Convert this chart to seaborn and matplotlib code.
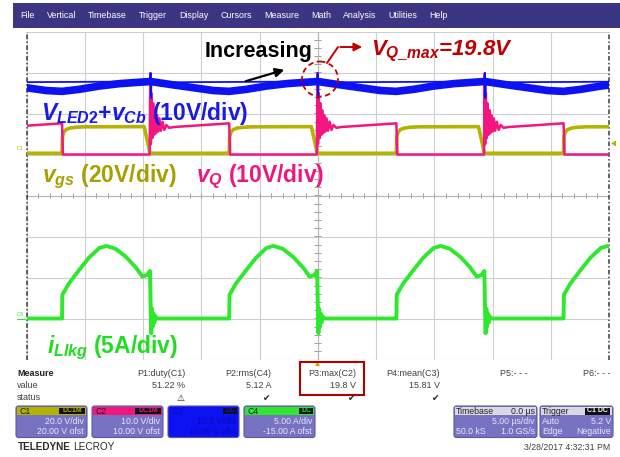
import numpy as np
import pandas as pd
import matplotlib
matplotlib.use("Agg")
import matplotlib.pyplot as plt
import seaborn as sns
from matplotlib.patches import Rectangle, FancyBboxPatch, Ellipse, Polygon

W, H = 620, 457

# ---------------- scope settings ----------------
time_div = 5.0                      # us / div
x_divs, y_divs = 10, 8
scale = {"C1": 20.0, "C2": 10.0, "C3": 10.0, "C4": 5.0}      # units / div
offset = {"C1": 20.0, "C2": 10.0, "C3": 10.0, "C4": -15.0}   # units

# C1 rising edges = start of each switching cycle (us)
cycle_starts = [-36.3, -21.95, -7.6, 6.75, 21.1]

# ---------------- one switching cycle, time from the C1 rising edge (us) ----------------
vgs_t = [0.0, 0.04, 0.15, 0.35, 0.7, 1.2, 2.0, 7.05, 7.35, 7.55, 14.34]
vgs_v = [0.6, 8.6, 10.9, 12.2, 12.9, 13.3, 13.5, 13.6, 6.0, 0.6, 0.6]

vq_t = [0.0, 0.08, 7.52, 7.58, 7.62, 7.68, 7.75, 7.82, 7.9, 7.98, 8.06, 8.15,
        8.25, 8.36, 8.48, 8.62, 8.78, 8.95, 9.2, 9.6, 14.34]
vq_v = [7.6, 0.0, 0.0, 19.8, 2.5, 15.0, 4.0, 12.5, 4.8, 10.8, 5.2, 9.6,
        5.6, 8.8, 5.8, 8.0, 6.0, 7.2, 6.5, 6.7, 7.6]

vled_t = [0.0, 1.5, 3.2, 5.0, 6.5, 7.6, 9.5, 11.5, 13.0, 14.34]
vled_v = [15.4, 15.9, 16.7, 17.3, 17.6, 17.8, 17.0, 16.2, 15.6, 15.4]
# switching spike riding on V_LED2 + v_Cb
vled_spike_t = [7.56, 7.6, 7.64, 7.68, 7.74]
vled_spike_v = [17.8, 19.9, 13.8, 18.4, 17.6]

ilk_t = [0.0, 0.03, 0.6, 1.46, 2.3, 3.2, 3.8, 4.6, 5.5, 6.35, 6.9, 7.3, 7.55,
         7.62, 7.66, 7.72, 7.78, 7.85, 7.92, 8.0, 8.1, 14.34]
ilk_a = [0.0, 2.9, 4.3, 5.9, 7.4, 8.6, 8.85, 8.5, 7.5, 6.2, 5.1, 5.3, 5.8,
         0.5, -1.8, 1.2, -1.0, 0.6, -0.5, 0.3, 0.0, 0.0]

# ---------------- measurement table ----------------
meas_names = ["P1:duty(C1)", "P2:rms(C4)", "P3:max(C2)", "P4:mean(C3)", "P5:- - -", "P6:- - -"]
meas_values = ["51.22 %", "5.12 A", "19.8 V", "15.81 V", "", ""]
meas_status = ["\u26a0", "\u2714", "\u2714", "\u2714", "", ""]

menu_items = ["File", "Vertical", "Timebase", "Trigger", "Display", "Cursors",
              "Measure", "Math", "Analysis", "Utilities", "Help"]

COL = {"C1": "#b3b300", "C2": "#f4167f", "C3": "#0c12f2", "C4": "#2ee82e"}
RED = "#c00000"


def trace(ch, ts, vs, starts=cycle_starts):
    t = np.concatenate([np.asarray(ts) + s for s in starts])
    v = np.tile(np.asarray(vs, dtype=float), len(starts))
    return pd.DataFrame({"t": t, "div": (v + offset[ch]) / scale[ch]})


sns.set_style("white")
plt.rcParams["font.family"] = ["Liberation Sans", "DejaVu Sans"]
plt.rcParams["mathtext.fontset"] = "custom"
plt.rcParams["mathtext.it"] = "Liberation Sans:italic:bold"
plt.rcParams["mathtext.rm"] = "Liberation Sans:bold"
plt.rcParams["mathtext.bf"] = "Liberation Sans:bold"

fig = plt.figure(figsize=(W / 100, H / 100), dpi=100, facecolor="white")
renderer = fig.canvas.get_renderer()

# ---------------- graticule ----------------
gx0, gx1, gy0, gy1 = 26.5, 609.0, 31.5, 359.5
ax = fig.add_axes([gx0 / W, 1 - gy1 / H, (gx1 - gx0) / W, (gy1 - gy0) / H])
half_t = time_div * x_divs / 2
ax.set_xlim(-half_t, half_t)
ax.set_ylim(-y_divs / 2, y_divs / 2)
ax.set_xticks(np.arange(-half_t, half_t + 0.1, time_div))
ax.set_yticks(np.arange(-y_divs / 2, y_divs / 2 + 0.1, 1))
ax.grid(True, color="#cfcfcf", lw=0.8)
ax.tick_params(length=0, labelbottom=False, labelleft=False)
for s in ax.spines.values():
    s.set_visible(False)
ax.vlines(np.arange(-half_t, half_t + 0.01, time_div / 5), -0.05, 0.05, color="#9a9a9a", lw=0.7)
ax.hlines(np.arange(-y_divs / 2, y_divs / 2 + 0.01, 0.2), -0.3, 0.3, color="#9a9a9a", lw=0.7)
ax.axhline(0, color="#b5b5b5", lw=0.8)
ax.axvline(0, color="#b5b5b5", lw=0.8)
for xe in (-half_t, half_t):
    ax.axvline(xe, color="#3a3a3a", lw=1.1, ls=(0, (3, 1.5, 1, 1.5)), clip_on=False)

# ---------------- waveforms ----------------
line_kw = dict(x="t", y="div", estimator=None, sort=False, ax=ax)
sns.lineplot(data=trace("C1", vgs_t, vgs_v), color=COL["C1"], lw=2.6, **line_kw)
sns.lineplot(data=trace("C2", vq_t, vq_v), color=COL["C2"], lw=1.8, **line_kw)
sns.lineplot(data=trace("C3", vled_t, vled_v), color=COL["C3"], lw=5.5, **line_kw)
sns.lineplot(data=trace("C3", vled_spike_t, vled_spike_v), color=COL["C3"], lw=1.3, **line_kw)
sns.lineplot(data=trace("C4", ilk_t, ilk_a), color=COL["C4"], lw=2.8, **line_kw)
ax.set_xlabel("")
ax.set_ylabel("")

# ---------------- overlay in pixel coordinates ----------------
ov = fig.add_axes([0, 0, 1, 1], zorder=5)
ov.set_xlim(0, W)
ov.set_ylim(H, 0)
ov.axis("off")
ov.patch.set_alpha(0)


def text_width(t):
    return t.get_window_extent(renderer=renderer).width


# menu bar
ov.add_patch(Rectangle((13, 3), W - 13, 25, fc="#3c3583", ec="none"))
mx = 20.5
for name in menu_items:
    t = ov.text(mx, 16, name, color="white", fontsize=6.4, va="center", ha="left")
    mx += text_width(t) + 12.0

# channel tags at the graticule edges
ov.text(17, 148, "C1", color=COL["C1"], fontsize=4, va="center")
ov.text(17, 315, "C4", color=COL["C4"], fontsize=4, va="center")
ov.plot([17, 25], [319, 319], color=COL["C4"], lw=0.8)
ov.add_patch(Polygon([[611, 143.5], [616, 140.5], [616, 146.5]], closed=True, fc=COL["C1"], ec="none"))
ov.add_patch(Polygon([[315, 366], [320, 366], [317.5, 361]], closed=True, fc="#e8a000", ec="none"))

# annotations
ov.text(205, 56.5, "Increasing", fontsize=15.5, fontweight="bold", color="black")
ov.annotate("", xy=(287, 69), xytext=(243, 82),
            arrowprops=dict(arrowstyle="-|>", color="black", lw=1.6, mutation_scale=13))
ov.add_patch(Ellipse((320, 79), 36, 35, fill=False, ec=RED, lw=1.3, ls=(0, (3, 2))))
ov.plot([327, 338], [63, 47], color=RED, lw=1.4)
ov.annotate("", xy=(365, 47), xytext=(337.5, 47),
            arrowprops=dict(arrowstyle="-|>", color=RED, lw=1.4, mutation_scale=12))
ov.text(371, 55, r"$V_{Q\_max}$=19.8V", fontsize=16, fontweight="bold", fontstyle="italic", color=RED)

ov.text(41, 120, r"$V_{LED2}$+$v_{Cb}$ (10V/div)", fontsize=16.5, fontweight="bold", color="#1a1ae6")
ov.text(42, 182, r"$v_{gs}$ (20V/div)", fontsize=16.5, fontweight="bold", color="#a89f00")
ov.text(196, 182, r"$v_{Q}$ (10V/div)", fontsize=16.5, fontweight="bold", color="#f0157f")
ov.text(47, 353, r"$i_{Llkg}$ (5A/div)", fontsize=16.5, fontweight="bold", color="#1fdd1f")

# measurement table
ov.text(17, 373, "Measure", fontsize=6.5, fontweight="bold", color="#202020", va="center")
ov.text(17, 386, "value", fontsize=6.5, color="#404040", va="center")
ov.text(17, 398, "status", fontsize=6.5, color="#404040", va="center")
col_right = [185, 271, 356, 440, 527, 611]
for xr, nm, val, st in zip(col_right, meas_names, meas_values, meas_status):
    ov.text(xr, 373, nm, fontsize=6.5, color="#404040", ha="right", va="center")
    if val:
        ov.text(xr, 386, val, fontsize=6.5, color="#404040", ha="right", va="center")
    if st:
        ov.text(xr - 4, 398, st, fontsize=6.5, color="#202020", ha="center", va="center",
                family=["DejaVu Sans"])
ov.add_patch(Rectangle((300, 362), 64, 33, fill=False, ec="#b00000", lw=1.5))

# channel descriptor boxes
BODY = "#7773c2"
EDGE = "#5c58a8"
TXT = "#e6e6f7"


def chan_box(x0, label, head, badge, badge_txt, l1, l2, body=BODY, txt=TXT, lab_col="#202020"):
    w, top, hb, bot = 71, 406, 415, 437.5
    ov.add_patch(FancyBboxPatch((x0, top), w, bot - top, boxstyle="round,pad=0,rounding_size=2.5",
                                fc=body, ec=EDGE, lw=0.8))
    ov.add_patch(Rectangle((x0 + 1, top + 1), w - 2, hb - top - 1, fc=head, ec="none"))
    ov.text(x0 + 3, 411, label, fontsize=6.3, color=lab_col, va="center")
    bw = 6 * len(badge) + 2
    ov.add_patch(Rectangle((x0 + w - 2 - bw, top + 1.5), bw, hb - top - 2.5, fc="#111111", ec="none"))
    ov.text(x0 + w - 2 - bw / 2, 411, badge, fontsize=5, color=badge_txt, va="center", ha="center",
            fontweight="bold")
    ov.text(x0 + w - 3, 421.5, l1, fontsize=6.3, color=txt, ha="right", va="center")
    ov.text(x0 + w - 3, 431.5, l2, fontsize=6.3, color=txt, ha="right", va="center")


chan_box(16, "C1", COL["C1"], "DC1M", COL["C1"], "20.0 V/div", "20.00 V ofst")
chan_box(92, "C2", COL["C2"], "DC1M", COL["C2"], "10.0 V/div", "10.00 V ofst")
chan_box(168, "C3", COL["C3"], "DC", COL["C3"], "10.0 V/div", "10.00 V ofst",
         body=COL["C3"], txt="#0a0ab0", lab_col="#0a0ab0")
chan_box(244, "C4", COL["C4"], "DC", COL["C4"], "5.00 A/div", "-15.00 A ofst")

# timebase / trigger boxes
for x0, w in ((454, 83), (540, 73)):
    ov.add_patch(FancyBboxPatch((x0, 406), w, 31.5, boxstyle="round,pad=0,rounding_size=2.5",
                                fc=BODY, ec=EDGE, lw=0.8))
    ov.add_patch(Rectangle((x0 + 1, 407), w - 2, 8, fc="#d9d9e4", ec="none"))
ov.text(456, 411, "Timebase", fontsize=6.3, color="#202020", va="center")
ov.text(535, 411, "0.0 \u00b5s", fontsize=6.3, color="#202020", va="center", ha="right")
ov.text(535, 421, "5.00 \u00b5s/div", fontsize=6.3, color=TXT, va="center", ha="right")
ov.text(456, 431, "50.0 kS", fontsize=6.3, color=TXT, va="center")
ov.text(535, 431, "1.0 GS/s", fontsize=6.3, color=TXT, va="center", ha="right")
ov.text(542, 411, "Trigger", fontsize=6.3, color="#202020", va="center")
ov.add_patch(Rectangle((585, 407.5), 25, 7, fc="#111111", ec="none"))
ov.text(597.5, 411, "C1 DC", fontsize=5, color="white", va="center", ha="center", fontweight="bold")
ov.text(542, 421, "Auto", fontsize=6.3, color=TXT, va="center")
ov.text(611, 421, "5.2 V", fontsize=6.3, color=TXT, va="center", ha="right")
ov.text(542, 431, "Edge", fontsize=6.3, color=TXT, va="center")
ov.text(611, 431, "Negative", fontsize=6.3, color=TXT, va="center", ha="right")

brand = ov.text(18, 447, "TELEDYNE", fontsize=7.2, fontweight="bold", color="#2a2a2a", va="center")
ov.text(18 + text_width(brand) + 2, 447, "LECROY", fontsize=7.2, color="#2a2a2a", va="center")
ov.text(610, 447, "3/28/2017 4:32:31 PM", fontsize=6.3, color="#404040", va="center", ha="right")

fig.savefig("out.png", dpi=100, facecolor="white")
